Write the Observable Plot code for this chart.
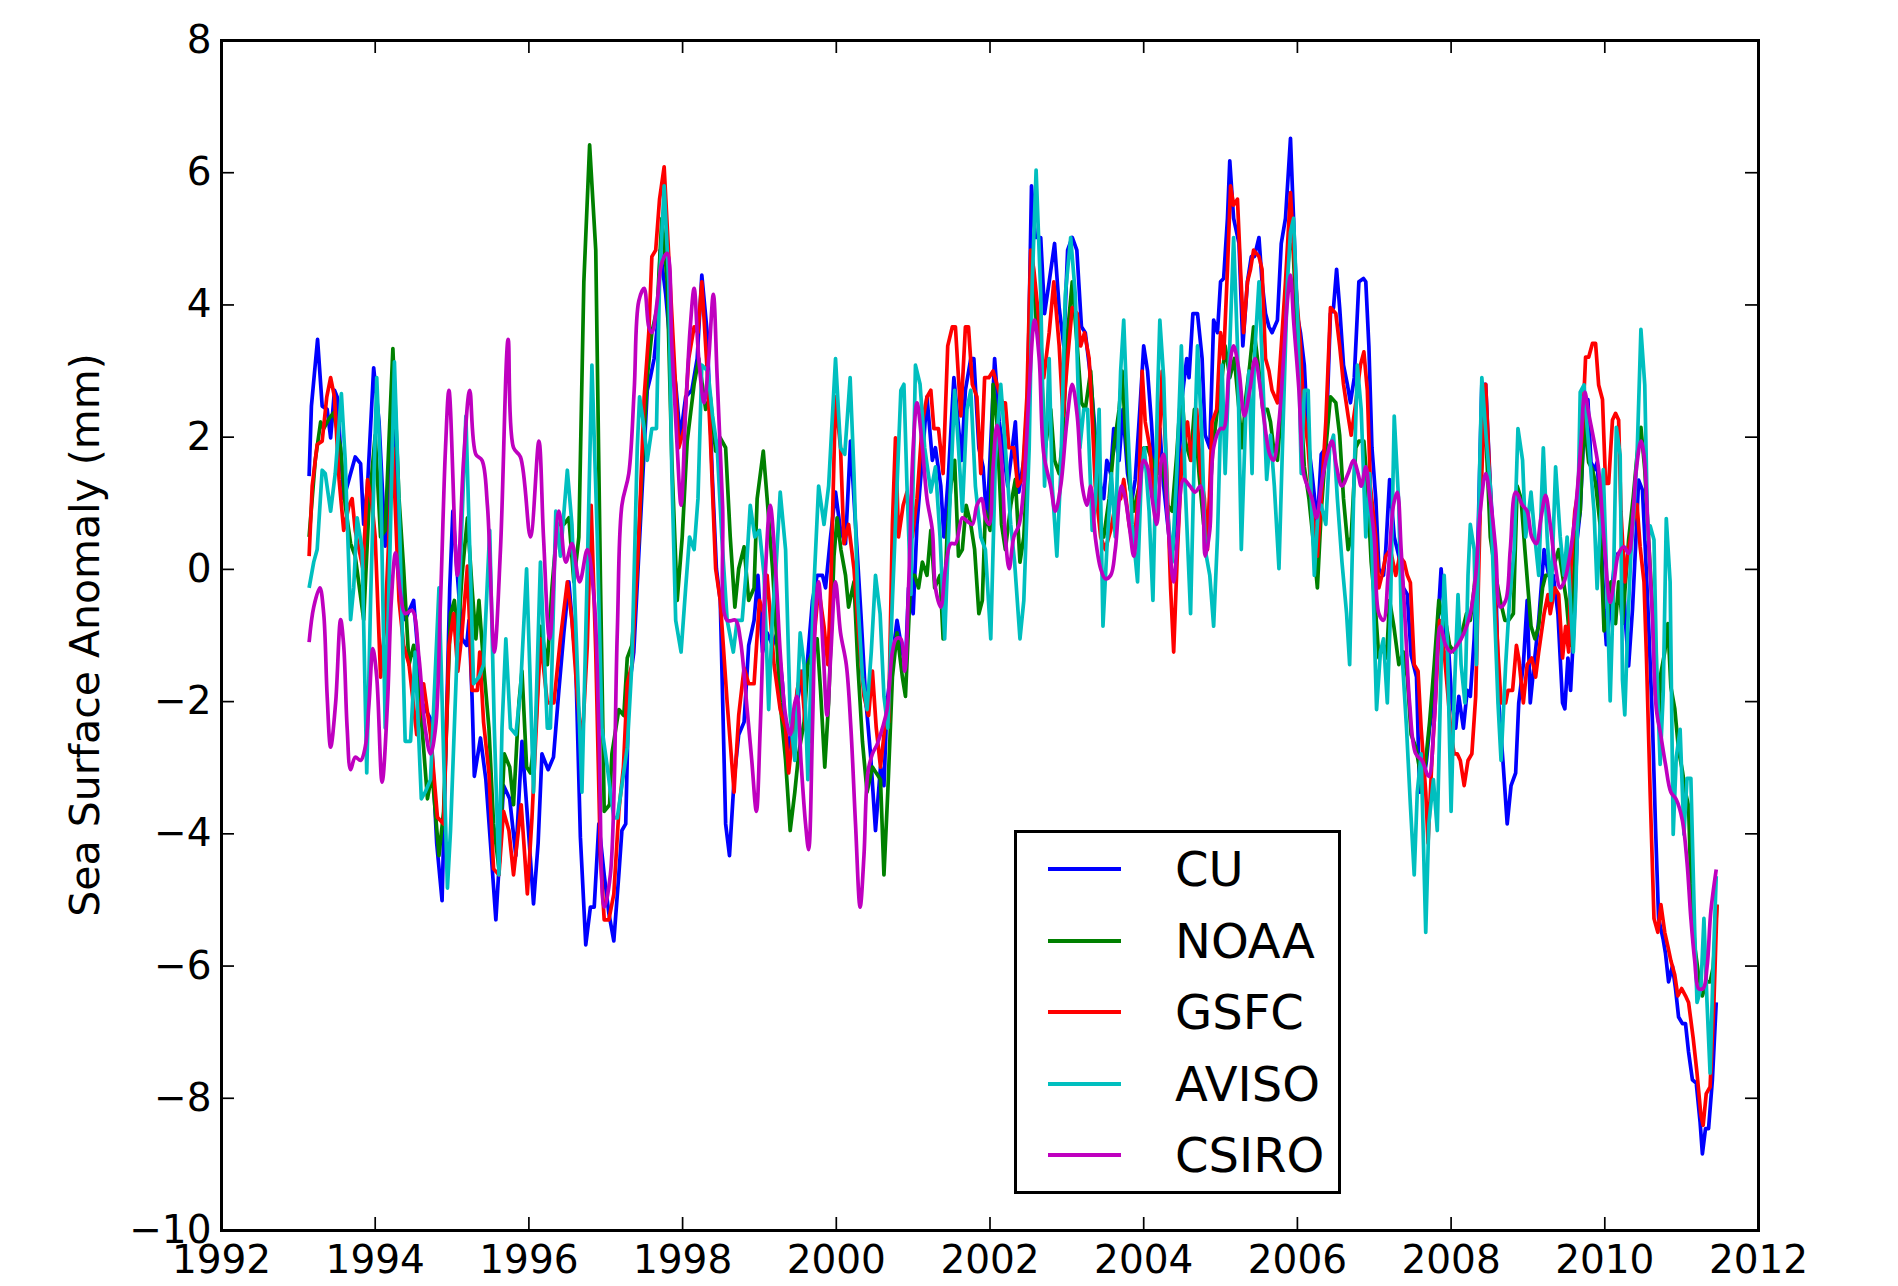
<!DOCTYPE html>
<html><head><meta charset="utf-8">
<script src="https://cdn.jsdelivr.net/npm/d3@7"></script>
<script src="https://cdn.jsdelivr.net/npm/@observablehq/plot@0.6"></script>
<style>
html,body{margin:0;padding:0;background:#fff;}
#chart{position:relative;width:1898px;height:1286px;font-family:"DejaVu Sans",sans-serif;}
#legend{position:absolute;left:1014px;top:830px;width:327px;height:364px;box-sizing:border-box;border:3px solid #000;background:#fff;}
.item{position:absolute;left:0;width:100%;height:0;}
.item .sw{position:absolute;left:31px;width:73px;height:3.6px;top:-1.8px;}
.item .lb{position:absolute;left:158px;top:0;transform:translateY(-50%);font-size:48px;line-height:1;color:#000;white-space:nowrap;}
</style></head><body><div id="chart"></div>
<script>
const xTicks = [1992,1994,1996,1998,2000,2002,2004,2006,2008,2010,2012];
const yTicks = [-10,-8,-6,-4,-2,0,2,4,6,8];
const yLabel = "Sea Surface Anomaly (mm)";
const names = ["CU","NOAA","GSFC","AVISO","CSIRO"];
const colors = ["#0000ff","#008000","#ff0000","#00bfbf","#bf00bf"];

const CU = [[1993.14,1.41],[1993.17,2.47],[1993.25,3.48],[1993.31,2.47],[1993.375,2.42],[1993.42,1.99],[1993.47,2.71],[1993.505,2.61],[1993.59,1.07],[1993.68,1.45],[1993.74,1.70],[1993.81,1.60],[1993.85,0.68],[1993.90,1.26],[1993.98,3.05],[1994.05,2.23],[1994.13,0.35],[1994.24,2.42],[1994.33,-0.09],[1994.39,-0.76],[1994.50,-0.47],[1994.61,-2.02],[1994.72,-2.26],[1994.80,-4.14],[1994.87,-5.01],[1994.97,-0.28],[1995.01,0.88],[1995.07,-0.09],[1995.13,-1.05],[1995.19,-1.15],[1995.22,-0.77],[1995.26,-1.92],[1995.29,-3.13],[1995.37,-2.55],[1995.44,-3.18],[1995.50,-4.14],[1995.57,-5.30],[1995.62,-4.33],[1995.67,-3.27],[1995.75,-3.47],[1995.83,-4.33],[1995.91,-2.60],[1996.00,-4.05],[1996.06,-5.06],[1996.12,-4.14],[1996.17,-2.79],[1996.25,-3.03],[1996.32,-2.84],[1996.39,-1.83],[1996.455,-0.96],[1996.52,-0.19],[1996.61,-1.44],[1996.67,-4.05],[1996.74,-5.68],[1996.80,-5.11],[1996.85,-5.11],[1996.91,-3.85],[1996.98,-4.62],[1997.04,-5.20],[1997.105,-5.62],[1997.17,-4.62],[1997.21,-3.95],[1997.26,-3.85],[1997.30,-1.83],[1997.365,-1.25],[1997.45,0.68],[1997.54,2.71],[1997.58,2.90],[1997.63,3.19],[1997.67,3.67],[1997.71,4.83],[1997.78,4.16],[1997.84,3.38],[1997.91,2.80],[1997.97,1.99],[1998.04,2.61],[1998.12,2.71],[1998.19,3.19],[1998.25,4.45],[1998.32,3.58],[1998.385,1.45],[1998.44,0.01],[1998.49,-0.47],[1998.56,-3.85],[1998.61,-4.33],[1998.67,-3.18],[1998.73,-2.50],[1998.80,-2.31],[1998.86,-1.15],[1998.93,-0.77],[1998.98,-0.09],[1999.04,-1.25],[1999.10,-0.96],[1999.17,-1.15],[1999.23,-0.96],[1999.30,-1.73],[1999.36,-2.79],[1999.43,-2.31],[1999.49,-2.02],[1999.56,-1.54],[1999.60,-1.73],[1999.69,-0.47],[1999.75,-0.09],[1999.82,-0.09],[1999.86,-0.28],[1999.925,0.49],[1999.99,1.17],[2000.055,0.59],[2000.12,0.39],[2000.185,1.94],[2000.25,0.68],[2000.32,-0.67],[2000.38,-1.92],[2000.445,-2.79],[2000.51,-3.95],[2000.575,-2.99],[2000.62,-3.27],[2000.66,-2.02],[2000.73,-1.34],[2000.79,-0.77],[2000.86,-1.25],[2000.90,-1.44],[2000.94,-0.28],[2001.00,-0.67],[2001.05,0.68],[2001.13,1.84],[2001.18,2.61],[2001.25,1.65],[2001.29,1.84],[2001.36,1.26],[2001.40,0.49],[2001.46,1.45],[2001.53,2.90],[2001.57,2.42],[2001.63,1.65],[2001.68,2.71],[2001.75,3.19],[2001.79,3.19],[2001.855,1.84],[2001.91,1.55],[2001.96,0.68],[2002.03,2.42],[2002.06,3.19],[2002.12,2.23],[2002.17,1.84],[2002.23,1.26],[2002.28,1.74],[2002.33,2.23],[2002.375,1.17],[2002.44,1.65],[2002.49,2.61],[2002.54,5.80],[2002.59,5.02],[2002.66,5.02],[2002.71,3.87],[2002.77,4.35],[2002.84,4.93],[2002.90,3.96],[2002.96,3.38],[2003.01,4.83],[2003.07,5.02],[2003.13,4.83],[2003.19,3.67],[2003.24,3.58],[2003.31,2.90],[2003.37,2.03],[2003.44,1.26],[2003.48,1.07],[2003.52,1.65],[2003.57,1.45],[2003.61,2.13],[2003.68,1.65],[2003.73,2.42],[2003.79,1.45],[2003.85,1.07],[2003.89,1.36],[2003.95,2.42],[2004.00,3.38],[2004.05,3.00],[2004.10,2.23],[2004.15,1.26],[2004.21,2.13],[2004.26,1.26],[2004.33,0.49],[2004.38,0.30],[2004.44,1.07],[2004.50,2.61],[2004.56,3.19],[2004.59,2.90],[2004.64,3.87],[2004.70,3.87],[2004.76,3.19],[2004.80,2.03],[2004.86,1.84],[2004.91,3.77],[2004.96,3.58],[2005.00,4.35],[2005.04,4.40],[2005.09,5.31],[2005.12,6.18],[2005.17,5.31],[2005.24,4.93],[2005.29,3.38],[2005.35,4.35],[2005.40,4.73],[2005.44,4.73],[2005.50,5.02],[2005.54,4.35],[2005.585,3.87],[2005.63,3.67],[2005.67,3.58],[2005.74,3.77],[2005.79,4.93],[2005.845,5.31],[2005.91,6.52],[2005.95,5.31],[2005.995,3.87],[2006.04,3.58],[2006.09,3.09],[2006.14,1.94],[2006.19,1.45],[2006.26,0.68],[2006.31,1.74],[2006.37,1.84],[2006.43,3.87],[2006.47,3.96],[2006.51,4.54],[2006.55,3.96],[2006.60,3.09],[2006.65,2.80],[2006.69,2.52],[2006.74,2.90],[2006.80,4.35],[2006.86,4.40],[2006.89,4.35],[2006.93,3.38],[2006.97,1.84],[2007.02,1.07],[2007.06,0.01],[2007.12,-0.09],[2007.15,0.30],[2007.20,1.36],[2007.26,0.49],[2007.32,0.20],[2007.38,-0.28],[2007.43,-0.38],[2007.48,-1.30],[2007.55,-1.63],[2007.59,-3.37],[2007.645,-3.18],[2007.68,-2.89],[2007.72,-2.40],[2007.78,-1.92],[2007.82,-0.96],[2007.87,0.01],[2007.93,-0.96],[2007.97,-1.25],[2008.01,-2.02],[2008.06,-2.40],[2008.10,-1.92],[2008.16,-2.40],[2008.21,-1.83],[2008.25,-1.92],[2008.30,-1.05],[2008.35,0.49],[2008.40,2.80],[2008.45,2.80],[2008.51,1.26],[2008.58,-0.09],[2008.62,-2.02],[2008.68,-2.99],[2008.73,-3.85],[2008.78,-3.27],[2008.84,-3.08],[2008.88,-2.02],[2008.94,-1.44],[2008.99,-0.47],[2009.03,-2.02],[2009.08,-1.44],[2009.14,-0.77],[2009.21,0.30],[2009.27,-0.09],[2009.33,-0.09],[2009.39,-0.67],[2009.45,-2.02],[2009.48,-2.11],[2009.52,-1.34],[2009.555,-1.83],[2009.60,-0.82],[2009.64,0.45],[2009.68,0.88],[2009.73,2.15],[2009.78,2.57],[2009.82,1.62],[2009.87,1.51],[2009.90,1.62],[2009.94,0.88],[2009.99,-0.61],[2010.02,-1.14],[2010.07,-0.61],[2010.12,0.03],[2010.17,0.24],[2010.23,0.24],[2010.27,-0.82],[2010.31,-1.46],[2010.36,-0.61],[2010.40,0.34],[2010.44,1.35],[2010.49,1.20],[2010.53,0.24],[2010.57,-0.82],[2010.62,-2.31],[2010.66,-3.90],[2010.70,-5.28],[2010.76,-5.60],[2010.79,-5.81],[2010.83,-6.24],[2010.88,-6.00],[2010.92,-6.34],[2010.96,-6.77],[2011.01,-6.87],[2011.05,-6.87],[2011.09,-7.30],[2011.14,-7.72],[2011.19,-7.77],[2011.24,-8.36],[2011.27,-8.84],[2011.31,-8.46],[2011.35,-8.46],[2011.40,-7.72],[2011.45,-6.55]];

const NOAA = [[1993.14,0.49],[1993.22,1.65],[1993.29,2.23],[1993.33,2.13],[1993.40,2.28],[1993.46,2.37],[1993.55,1.84],[1993.61,0.97],[1993.68,0.39],[1993.74,0.20],[1993.85,-0.76],[1993.92,0.97],[1994.00,2.03],[1994.07,0.49],[1994.13,0.59],[1994.23,3.34],[1994.31,1.07],[1994.37,0.01],[1994.44,-1.44],[1994.50,-1.15],[1994.61,-2.40],[1994.68,-3.47],[1994.74,-3.08],[1994.83,-4.33],[1994.89,-3.66],[1994.98,-0.67],[1995.03,-0.47],[1995.075,-1.05],[1995.13,-0.09],[1995.20,0.78],[1995.26,-0.28],[1995.31,-1.05],[1995.35,-0.47],[1995.41,-1.44],[1995.48,-2.40],[1995.54,-3.85],[1995.61,-4.53],[1995.68,-2.79],[1995.75,-2.99],[1995.80,-3.56],[1995.87,-2.02],[1995.91,-1.54],[1995.97,-2.99],[1996.02,-3.08],[1996.09,-2.40],[1996.15,-0.86],[1996.24,-1.44],[1996.30,-0.28],[1996.37,0.68],[1996.455,0.68],[1996.52,0.78],[1996.585,-0.19],[1996.65,0.49],[1996.715,4.35],[1996.79,6.42],[1996.87,4.83],[1996.93,-0.09],[1996.98,-3.66],[1997.05,-3.56],[1997.08,-2.79],[1997.17,-2.12],[1997.235,-2.21],[1997.28,-1.34],[1997.34,-1.15],[1997.41,0.01],[1997.47,1.45],[1997.54,2.90],[1997.60,3.58],[1997.67,3.96],[1997.73,5.31],[1997.80,4.35],[1997.86,1.65],[1997.93,-0.47],[1997.995,0.49],[1998.06,1.94],[1998.15,2.80],[1998.21,3.19],[1998.30,2.42],[1998.36,2.61],[1998.43,1.79],[1998.49,1.99],[1998.56,1.84],[1998.62,0.49],[1998.68,-0.57],[1998.73,0.01],[1998.80,0.34],[1998.86,-0.47],[1998.93,-0.28],[1998.97,1.07],[1999.05,1.79],[1999.10,1.07],[1999.17,0.01],[1999.21,-0.77],[1999.27,-2.02],[1999.34,-2.89],[1999.40,-3.95],[1999.46,-3.37],[1999.51,-2.79],[1999.58,-2.31],[1999.63,-1.44],[1999.69,-1.25],[1999.75,-1.05],[1999.795,-1.83],[1999.85,-2.99],[1999.90,-2.02],[1999.97,0.20],[2000.01,0.78],[2000.06,0.30],[2000.12,-0.09],[2000.16,-0.57],[2000.23,-0.19],[2000.28,-1.44],[2000.34,-2.60],[2000.40,-3.37],[2000.47,-2.99],[2000.52,-3.08],[2000.575,-3.18],[2000.62,-4.62],[2000.67,-3.37],[2000.73,-1.63],[2000.79,-0.96],[2000.86,-1.63],[2000.90,-1.92],[2000.97,-0.09],[2001.02,-0.09],[2001.07,-0.28],[2001.12,0.11],[2001.18,-0.09],[2001.23,0.59],[2001.28,-0.28],[2001.35,-0.09],[2001.39,-1.05],[2001.44,0.49],[2001.49,1.26],[2001.54,1.65],[2001.59,0.20],[2001.64,0.30],[2001.69,0.97],[2001.75,0.68],[2001.80,0.30],[2001.855,-0.67],[2001.90,-0.47],[2001.94,0.88],[2002.00,0.59],[2002.04,2.80],[2002.09,2.23],[2002.15,0.68],[2002.20,0.30],[2002.27,0.97],[2002.33,1.36],[2002.39,0.11],[2002.44,0.49],[2002.49,1.74],[2002.55,4.73],[2002.60,3.77],[2002.66,3.19],[2002.72,1.84],[2002.79,2.42],[2002.84,1.65],[2002.90,1.45],[2002.95,2.03],[2003.01,3.58],[2003.07,4.35],[2003.135,3.38],[2003.19,2.52],[2003.24,2.42],[2003.31,3.00],[2003.37,1.80],[2003.43,0.68],[2003.48,0.49],[2003.55,1.07],[2003.61,1.84],[2003.68,2.42],[2003.72,3.00],[2003.76,2.13],[2003.82,1.26],[2003.87,0.88],[2003.94,1.26],[2004.00,1.84],[2004.05,1.84],[2004.11,1.65],[2004.18,1.45],[2004.24,1.65],[2004.31,0.97],[2004.37,0.88],[2004.43,1.74],[2004.49,2.80],[2004.54,1.94],[2004.61,1.65],[2004.66,2.42],[2004.72,1.45],[2004.78,0.68],[2004.85,0.88],[2004.90,1.84],[2004.96,2.42],[2005.02,2.90],[2005.06,3.38],[2005.12,2.90],[2005.18,3.19],[2005.24,2.42],[2005.28,1.84],[2005.33,2.61],[2005.38,3.09],[2005.43,3.67],[2005.50,3.00],[2005.55,2.42],[2005.61,2.42],[2005.65,2.23],[2005.69,1.84],[2005.74,1.65],[2005.79,2.42],[2005.845,4.16],[2005.90,4.93],[2005.945,4.83],[2006.00,3.38],[2006.04,2.61],[2006.09,1.55],[2006.15,1.07],[2006.21,0.39],[2006.26,-0.28],[2006.31,0.88],[2006.37,1.84],[2006.43,2.61],[2006.50,2.52],[2006.55,2.03],[2006.60,1.07],[2006.66,0.30],[2006.70,0.49],[2006.76,1.84],[2006.80,1.94],[2006.865,1.94],[2006.91,1.26],[2006.96,0.11],[2007.02,-0.67],[2007.06,-1.34],[2007.12,-1.15],[2007.16,-1.34],[2007.20,-0.47],[2007.255,-0.86],[2007.32,-1.44],[2007.38,-1.25],[2007.43,-1.63],[2007.48,-2.50],[2007.54,-2.69],[2007.58,-2.95],[2007.62,-3.37],[2007.67,-2.89],[2007.72,-2.31],[2007.78,-1.44],[2007.84,-0.47],[2007.88,-0.67],[2007.94,-0.86],[2007.98,-1.15],[2008.04,-1.25],[2008.09,-1.05],[2008.14,-0.96],[2008.20,-0.67],[2008.25,-0.77],[2008.30,-0.28],[2008.36,0.49],[2008.42,2.23],[2008.46,1.84],[2008.51,0.49],[2008.58,-0.09],[2008.64,-0.47],[2008.70,-0.77],[2008.75,-0.77],[2008.81,-0.67],[2008.86,1.26],[2008.91,1.07],[2008.96,0.30],[2009.00,-0.28],[2009.04,-0.86],[2009.09,-1.05],[2009.14,-0.86],[2009.19,-0.28],[2009.23,-0.09],[2009.29,-0.09],[2009.35,0.11],[2009.40,0.30],[2009.45,-0.09],[2009.50,-0.47],[2009.55,-1.15],[2009.58,-0.50],[2009.62,0.45],[2009.68,0.88],[2009.73,2.26],[2009.79,1.62],[2009.84,1.51],[2009.88,1.30],[2009.94,0.66],[2009.99,-0.93],[2010.03,-0.82],[2010.08,-0.19],[2010.14,-0.82],[2010.18,-0.19],[2010.23,-0.82],[2010.27,-0.19],[2010.31,0.45],[2010.37,1.09],[2010.42,1.73],[2010.47,2.15],[2010.52,1.51],[2010.57,0.45],[2010.62,-0.61],[2010.66,-1.88],[2010.70,-2.31],[2010.73,-1.57],[2010.78,-1.25],[2010.82,-0.82],[2010.86,-1.78],[2010.91,-2.10],[2010.96,-2.73],[2011.01,-3.05],[2011.05,-3.37],[2011.09,-3.58],[2011.12,-4.75],[2011.17,-5.70],[2011.22,-6.13],[2011.27,-6.45],[2011.32,-6.24],[2011.37,-6.24],[2011.41,-6.02],[2011.46,-5.07]];

const GSFC = [[1993.14,0.20],[1993.18,1.26],[1993.245,1.89],[1993.31,1.94],[1993.37,2.61],[1993.42,2.90],[1993.47,2.61],[1993.53,1.36],[1993.59,0.59],[1993.66,0.97],[1993.70,1.07],[1993.74,0.59],[1993.84,0.01],[1993.90,1.36],[1993.96,0.97],[1994.00,0.49],[1994.07,-1.63],[1994.13,-0.76],[1994.23,1.84],[1994.31,-0.47],[1994.37,-1.15],[1994.44,-1.44],[1994.54,-2.50],[1994.63,-1.73],[1994.72,-2.50],[1994.81,-3.75],[1994.89,-3.85],[1994.96,-1.15],[1995.02,-0.67],[1995.075,-1.54],[1995.13,-0.96],[1995.20,0.05],[1995.26,-1.83],[1995.33,-1.83],[1995.36,-1.25],[1995.41,-2.31],[1995.48,-3.08],[1995.54,-4.53],[1995.61,-4.62],[1995.67,-3.66],[1995.74,-3.95],[1995.80,-4.62],[1995.90,-3.56],[1995.98,-4.91],[1996.04,-3.76],[1996.15,-1.05],[1996.24,-2.02],[1996.325,-2.02],[1996.41,-1.05],[1996.50,-0.19],[1996.56,-0.77],[1996.63,-1.92],[1996.69,-2.69],[1996.76,-1.15],[1996.81,0.97],[1996.87,-1.25],[1996.93,-4.33],[1996.98,-5.30],[1997.04,-5.30],[1997.105,-4.91],[1997.17,-3.66],[1997.23,-2.99],[1997.28,-1.73],[1997.34,-1.44],[1997.43,0.49],[1997.50,2.61],[1997.56,3.58],[1997.60,4.73],[1997.65,4.83],[1997.70,5.60],[1997.76,6.09],[1997.82,4.73],[1997.89,3.19],[1997.95,1.84],[1998.02,2.13],[1998.08,3.19],[1998.15,3.67],[1998.20,3.58],[1998.25,4.35],[1998.32,3.00],[1998.36,2.03],[1998.43,0.01],[1998.49,-0.47],[1998.58,-2.02],[1998.67,-3.37],[1998.73,-2.21],[1998.80,-1.49],[1998.86,-1.73],[1998.93,-1.73],[1999.00,-0.47],[1999.06,-0.67],[1999.10,-0.09],[1999.19,-1.44],[1999.27,-2.12],[1999.34,-2.40],[1999.38,-3.08],[1999.45,-2.31],[1999.49,-1.83],[1999.54,-1.54],[1999.60,-2.40],[1999.66,-2.60],[1999.71,-1.05],[1999.77,-0.28],[1999.84,-0.86],[1999.89,-1.44],[1999.93,-0.19],[1999.99,2.61],[2000.055,1.84],[2000.10,0.39],[2000.16,0.68],[2000.23,0.01],[2000.29,-0.96],[2000.36,-1.92],[2000.42,-2.21],[2000.47,-1.54],[2000.52,-2.40],[2000.575,-2.99],[2000.63,-2.40],[2000.68,-2.31],[2000.73,0.68],[2000.77,1.99],[2000.81,0.49],[2000.87,0.97],[2000.92,1.17],[2000.99,0.49],[2001.05,1.07],[2001.12,2.23],[2001.18,2.61],[2001.23,2.71],[2001.27,2.13],[2001.33,2.13],[2001.39,1.45],[2001.45,3.38],[2001.51,3.67],[2001.55,3.67],[2001.62,2.32],[2001.68,3.67],[2001.72,3.67],[2001.77,2.80],[2001.83,2.61],[2001.88,1.45],[2001.93,2.90],[2001.985,2.90],[2002.04,3.00],[2002.09,2.80],[2002.16,2.52],[2002.20,2.52],[2002.245,1.84],[2002.31,1.84],[2002.36,1.26],[2002.42,1.36],[2002.48,2.61],[2002.53,4.83],[2002.57,4.54],[2002.62,3.96],[2002.70,2.90],[2002.77,3.58],[2002.83,4.35],[2002.90,3.38],[2002.95,2.32],[2003.01,3.19],[2003.07,3.96],[2003.135,3.87],[2003.18,3.38],[2003.23,3.58],[2003.29,3.19],[2003.34,2.03],[2003.37,1.26],[2003.44,0.49],[2003.50,0.30],[2003.57,0.59],[2003.63,0.97],[2003.70,1.07],[2003.74,1.36],[2003.81,0.68],[2003.87,0.30],[2003.94,1.26],[2003.98,3.00],[2004.02,2.23],[2004.08,1.84],[2004.13,1.07],[2004.20,1.84],[2004.24,3.00],[2004.30,1.45],[2004.35,-0.28],[2004.39,-1.25],[2004.44,0.30],[2004.50,1.74],[2004.57,2.23],[2004.62,1.65],[2004.69,2.42],[2004.74,1.45],[2004.79,1.07],[2004.83,0.30],[2004.89,2.23],[2004.95,2.42],[2005.00,3.58],[2005.04,3.19],[2005.09,4.54],[2005.13,5.80],[2005.17,5.51],[2005.22,5.60],[2005.26,4.54],[2005.30,3.58],[2005.35,4.35],[2005.39,4.54],[2005.43,4.83],[2005.50,4.73],[2005.54,4.54],[2005.585,3.19],[2005.63,3.00],[2005.67,2.71],[2005.74,2.52],[2005.79,3.38],[2005.845,4.35],[2005.91,5.70],[2005.95,4.83],[2005.995,4.06],[2006.04,3.38],[2006.08,2.42],[2006.14,1.84],[2006.19,0.97],[2006.26,0.20],[2006.31,1.07],[2006.37,2.23],[2006.43,3.96],[2006.50,3.87],[2006.55,3.38],[2006.60,2.80],[2006.66,2.32],[2006.70,2.03],[2006.76,2.52],[2006.82,3.09],[2006.865,3.29],[2006.91,2.71],[2006.95,1.26],[2007.02,0.49],[2007.06,-0.28],[2007.10,-0.09],[2007.15,0.20],[2007.21,0.30],[2007.28,-0.09],[2007.33,0.20],[2007.39,0.11],[2007.43,-0.09],[2007.47,-0.20],[2007.52,-1.44],[2007.57,-1.54],[2007.61,-2.40],[2007.67,-3.37],[2007.70,-4.14],[2007.75,-2.89],[2007.80,-1.92],[2007.85,-0.77],[2007.91,-1.25],[2007.96,-1.92],[2008.00,-2.50],[2008.04,-2.79],[2008.08,-2.79],[2008.12,-2.89],[2008.17,-3.27],[2008.22,-2.89],[2008.27,-2.79],[2008.32,-1.92],[2008.38,0.97],[2008.45,2.80],[2008.50,1.45],[2008.56,-0.09],[2008.61,-1.25],[2008.65,-2.02],[2008.71,-2.02],[2008.74,-1.83],[2008.80,-1.83],[2008.85,-1.15],[2008.88,-1.34],[2008.94,-2.02],[2008.99,-1.44],[2009.05,-1.34],[2009.10,-1.63],[2009.14,-1.25],[2009.21,-0.67],[2009.26,-0.38],[2009.29,-0.67],[2009.35,-0.28],[2009.40,-0.38],[2009.45,-1.34],[2009.49,-0.86],[2009.53,-1.25],[2009.56,0.03],[2009.61,0.88],[2009.64,1.09],[2009.71,2.15],[2009.75,3.21],[2009.79,3.21],[2009.84,3.42],[2009.88,3.42],[2009.92,2.79],[2009.97,2.57],[2010.01,1.30],[2010.05,1.30],[2010.10,2.26],[2010.14,2.36],[2010.18,2.26],[2010.21,0.88],[2010.26,-0.19],[2010.30,0.24],[2010.36,0.66],[2010.42,0.98],[2010.46,0.34],[2010.51,-0.19],[2010.54,-1.25],[2010.59,-3.37],[2010.64,-5.28],[2010.69,-5.49],[2010.73,-5.07],[2010.78,-5.49],[2010.82,-5.70],[2010.86,-5.92],[2010.91,-6.13],[2010.95,-6.45],[2011.00,-6.34],[2011.05,-6.45],[2011.09,-6.55],[2011.15,-7.09],[2011.20,-7.62],[2011.25,-8.25],[2011.28,-8.41],[2011.32,-7.93],[2011.37,-7.83],[2011.42,-6.55],[2011.46,-5.07]];

const AVISO = [[1993.14,-0.28],[1993.20,0.11],[1993.245,0.30],[1993.31,1.50],[1993.35,1.45],[1993.42,0.88],[1993.48,1.45],[1993.56,2.66],[1993.61,1.65],[1993.68,-0.76],[1993.72,-0.28],[1993.765,0.78],[1993.83,0.30],[1993.89,-3.08],[1993.94,-0.47],[1994.02,2.90],[1994.07,1.45],[1994.13,-2.40],[1994.19,0.20],[1994.25,3.14],[1994.31,0.97],[1994.39,-2.60],[1994.46,-2.60],[1994.52,-1.25],[1994.60,-3.47],[1994.65,-3.37],[1994.72,-3.18],[1994.83,-0.28],[1994.89,-2.79],[1994.94,-4.82],[1994.98,-3.95],[1995.18,2.32],[1995.24,-0.09],[1995.28,-1.73],[1995.35,-1.63],[1995.41,-1.44],[1995.49,0.59],[1995.55,-2.40],[1995.61,-4.62],[1995.65,-2.40],[1995.70,-1.05],[1995.76,-2.40],[1995.83,-2.50],[1995.89,-1.83],[1995.97,0.01],[1996.01,-1.44],[1996.06,-3.37],[1996.15,0.11],[1996.24,-2.40],[1996.28,-2.40],[1996.35,0.88],[1996.41,0.20],[1996.50,1.50],[1996.56,0.68],[1996.62,-1.15],[1996.69,-3.37],[1996.76,0.01],[1996.82,3.09],[1996.89,0.49],[1996.95,-2.40],[1997.02,-2.99],[1997.105,-3.76],[1997.15,-3.76],[1997.21,-3.27],[1997.28,-2.69],[1997.34,-1.44],[1997.41,1.84],[1997.44,2.61],[1997.50,2.13],[1997.54,1.65],[1997.60,2.13],[1997.66,2.13],[1997.70,4.35],[1997.76,5.80],[1997.82,4.35],[1997.86,1.45],[1997.91,-0.77],[1997.98,-1.25],[1998.04,-0.28],[1998.09,0.49],[1998.15,0.30],[1998.20,1.07],[1998.25,3.09],[1998.33,3.00],[1998.39,2.32],[1998.45,1.84],[1998.51,0.49],[1998.58,-0.77],[1998.66,-1.25],[1998.71,-0.77],[1998.775,-0.77],[1998.83,0.01],[1998.88,0.97],[1998.94,0.49],[1999.00,0.59],[1999.06,-0.09],[1999.12,-2.12],[1999.17,-0.67],[1999.21,-0.09],[1999.27,1.17],[1999.34,0.30],[1999.40,-2.21],[1999.46,-2.89],[1999.53,-0.96],[1999.58,-1.44],[1999.63,-3.18],[1999.70,-0.47],[1999.77,1.26],[1999.84,0.68],[1999.90,1.26],[1999.99,3.19],[2000.055,1.84],[2000.11,1.74],[2000.18,2.90],[2000.23,1.45],[2000.28,-0.47],[2000.34,-1.63],[2000.40,-2.12],[2000.455,-1.25],[2000.51,-0.09],[2000.57,-0.67],[2000.62,-1.92],[2000.67,-2.40],[2000.73,-0.47],[2000.78,0.97],[2000.84,2.71],[2000.88,2.80],[2000.92,1.26],[2000.97,-0.38],[2001.03,3.09],[2001.09,2.80],[2001.15,1.84],[2001.23,1.17],[2001.29,1.55],[2001.35,0.49],[2001.41,-1.05],[2001.46,0.49],[2001.54,2.71],[2001.59,1.84],[2001.64,0.88],[2001.70,2.42],[2001.75,2.71],[2001.81,1.26],[2001.88,0.49],[2001.94,0.30],[2002.01,-1.05],[2002.07,1.65],[2002.14,2.80],[2002.20,1.84],[2002.27,0.68],[2002.32,0.11],[2002.39,-1.05],[2002.44,-0.47],[2002.51,1.84],[2002.55,4.35],[2002.60,6.04],[2002.66,4.16],[2002.71,1.26],[2002.77,3.19],[2002.81,1.26],[2002.87,0.20],[2002.92,1.45],[2002.98,4.16],[2003.05,5.02],[2003.11,4.16],[2003.17,1.84],[2003.22,2.42],[2003.27,2.42],[2003.33,0.59],[2003.37,1.00],[2003.42,2.42],[2003.47,-0.86],[2003.52,0.30],[2003.58,1.45],[2003.63,0.49],[2003.70,3.00],[2003.74,3.77],[2003.79,2.23],[2003.85,0.68],[2003.92,-0.19],[2003.97,1.45],[2004.01,1.84],[2004.07,0.88],[2004.12,-0.47],[2004.18,2.61],[2004.21,3.77],[2004.26,2.90],[2004.31,0.88],[2004.37,0.11],[2004.43,1.45],[2004.49,3.38],[2004.54,1.26],[2004.61,-0.67],[2004.66,1.84],[2004.70,3.38],[2004.76,1.94],[2004.80,0.30],[2004.86,-0.09],[2004.91,-0.86],[2004.96,0.49],[2005.02,3.09],[2005.06,1.45],[2005.12,3.38],[2005.17,5.02],[2005.22,3.38],[2005.27,0.30],[2005.33,2.42],[2005.37,3.00],[2005.41,1.45],[2005.44,3.19],[2005.50,4.35],[2005.54,3.19],[2005.60,1.36],[2005.65,2.03],[2005.70,1.26],[2005.76,0.01],[2005.815,2.23],[2005.87,4.35],[2005.91,5.10],[2005.95,5.31],[2006.01,3.58],[2006.05,1.45],[2006.09,2.71],[2006.14,2.71],[2006.18,1.07],[2006.22,-0.09],[2006.27,0.88],[2006.31,0.97],[2006.37,0.68],[2006.42,1.84],[2006.47,2.03],[2006.52,1.07],[2006.58,0.11],[2006.64,-0.67],[2006.68,-1.44],[2006.735,1.26],[2006.78,3.09],[2006.83,2.42],[2006.89,0.49],[2006.94,1.45],[2006.99,-0.47],[2007.03,-2.12],[2007.08,-1.25],[2007.12,-1.05],[2007.17,-2.02],[2007.21,-0.67],[2007.26,2.32],[2007.32,0.97],[2007.36,-1.25],[2007.42,-2.40],[2007.47,-3.56],[2007.52,-4.62],[2007.56,-3.37],[2007.61,-2.79],[2007.67,-5.49],[2007.71,-3.85],[2007.77,-3.18],[2007.82,-3.95],[2007.87,-1.44],[2007.91,-0.09],[2007.95,-1.05],[2008.00,-3.66],[2008.04,-1.92],[2008.09,-0.38],[2008.13,-1.44],[2008.18,-2.02],[2008.22,-0.09],[2008.25,0.68],[2008.30,0.30],[2008.33,-1.44],[2008.37,1.45],[2008.40,2.90],[2008.46,1.94],[2008.51,1.26],[2008.56,-0.47],[2008.61,-2.02],[2008.65,-2.89],[2008.71,-1.44],[2008.76,-0.47],[2008.82,0.30],[2008.87,2.13],[2008.93,1.65],[2008.97,0.49],[2009.01,0.88],[2009.04,1.17],[2009.09,0.49],[2009.14,-0.09],[2009.20,1.84],[2009.25,0.49],[2009.30,-0.47],[2009.36,1.55],[2009.42,0.49],[2009.47,-0.09],[2009.51,0.49],[2009.56,-0.67],[2009.59,-1.25],[2009.62,-0.40],[2009.65,0.88],[2009.68,2.68],[2009.73,2.79],[2009.77,2.15],[2009.81,1.62],[2009.86,0.88],[2009.90,-0.29],[2009.94,0.66],[2009.98,1.51],[2010.02,0.03],[2010.07,-1.99],[2010.11,-0.40],[2010.15,2.15],[2010.20,1.73],[2010.23,-1.67],[2010.26,-2.20],[2010.30,-0.82],[2010.34,0.24],[2010.39,1.09],[2010.42,1.73],[2010.47,3.63],[2010.52,2.79],[2010.56,0.45],[2010.59,0.66],[2010.64,0.45],[2010.67,-1.25],[2010.72,-2.95],[2010.76,-1.88],[2010.80,0.77],[2010.85,-0.19],[2010.89,-4.01],[2010.93,-2.84],[2010.98,-2.42],[2011.03,-4.01],[2011.07,-3.16],[2011.12,-3.16],[2011.17,-5.49],[2011.20,-6.55],[2011.25,-6.34],[2011.29,-5.28],[2011.33,-6.55],[2011.37,-7.62],[2011.41,-6.02],[2011.45,-4.64]];

const CSIRO = [[1993.14,-1.10],[1993.20,-0.57],[1993.28,-0.28],[1993.33,-0.67],[1993.375,-1.92],[1993.42,-2.69],[1993.485,-2.02],[1993.55,-0.76],[1993.59,-1.15],[1993.635,-2.40],[1993.68,-3.03],[1993.74,-2.84],[1993.81,-2.89],[1993.87,-2.69],[1993.92,-2.02],[1993.97,-1.20],[1994.02,-1.63],[1994.09,-3.22],[1994.16,-2.02],[1994.21,-0.47],[1994.265,0.25],[1994.33,-0.38],[1994.39,-0.67],[1994.48,-0.62],[1994.57,-1.34],[1994.65,-2.40],[1994.72,-2.79],[1994.785,-2.40],[1994.85,-0.47],[1994.915,1.84],[1994.96,2.71],[1995.07,-0.09],[1995.15,1.65],[1995.23,2.71],[1995.31,1.74],[1995.39,1.65],[1995.46,0.97],[1995.55,-1.25],[1995.63,0.30],[1995.73,3.48],[1995.80,1.84],[1995.89,1.70],[1996.02,0.49],[1996.13,1.94],[1996.19,0.49],[1996.27,-1.05],[1996.39,0.88],[1996.48,0.11],[1996.56,0.39],[1996.66,-0.19],[1996.76,0.30],[1996.85,-0.47],[1996.91,-2.40],[1996.98,-5.11],[1997.06,-4.62],[1997.15,-0.96],[1997.21,0.97],[1997.30,1.45],[1997.37,2.71],[1997.43,4.06],[1997.50,4.25],[1997.56,3.67],[1997.60,3.58],[1997.67,4.06],[1997.73,4.64],[1997.80,4.78],[1997.86,3.38],[1997.93,1.84],[1997.98,0.97],[1998.04,2.42],[1998.10,3.67],[1998.15,4.25],[1998.21,3.19],[1998.28,2.52],[1998.34,3.19],[1998.40,4.16],[1998.45,2.90],[1998.52,0.97],[1998.58,-0.77],[1998.69,-0.77],[1998.75,-1.05],[1998.84,-2.12],[1998.90,-2.89],[1998.96,-3.66],[1999.01,-2.40],[1999.08,0.01],[1999.14,0.97],[1999.21,0.01],[1999.27,-1.25],[1999.34,-2.21],[1999.40,-2.50],[1999.46,-2.02],[1999.49,-1.92],[1999.54,-2.89],[1999.60,-3.85],[1999.64,-4.24],[1999.69,-2.40],[1999.73,-0.67],[1999.77,-0.19],[1999.83,-1.25],[1999.88,-2.21],[1999.93,-1.25],[1999.99,-0.19],[2000.055,-0.96],[2000.13,-1.44],[2000.19,-2.40],[2000.25,-3.85],[2000.31,-5.11],[2000.36,-4.33],[2000.41,-3.08],[2000.47,-2.79],[2000.53,-2.65],[2000.60,-2.40],[2000.66,-2.12],[2000.73,-1.25],[2000.78,-1.05],[2000.84,-1.05],[2000.89,-1.54],[2000.94,-0.28],[2001.00,1.84],[2001.05,2.52],[2001.12,1.84],[2001.18,1.07],[2001.25,0.59],[2001.29,-0.28],[2001.36,-0.57],[2001.42,0.01],[2001.49,0.39],[2001.55,0.39],[2001.64,0.78],[2001.70,0.73],[2001.77,0.68],[2001.83,0.97],[2001.89,1.07],[2001.94,0.78],[2001.99,0.68],[2002.04,1.55],[2002.09,2.18],[2002.15,1.65],[2002.20,0.49],[2002.25,0.01],[2002.31,0.49],[2002.38,0.68],[2002.44,1.26],[2002.51,2.71],[2002.58,3.77],[2002.64,3.19],[2002.70,1.74],[2002.79,1.26],[2002.85,0.88],[2002.92,1.26],[2003.00,2.23],[2003.07,2.80],[2003.135,2.32],[2003.20,1.26],[2003.26,0.97],[2003.31,1.26],[2003.37,0.49],[2003.44,0.01],[2003.50,-0.14],[2003.57,-0.09],[2003.63,0.30],[2003.71,1.26],[2003.76,1.07],[2003.82,0.59],[2003.87,0.20],[2003.94,1.07],[2004.00,1.65],[2004.05,1.55],[2004.11,1.07],[2004.17,0.68],[2004.23,1.65],[2004.26,1.74],[2004.31,0.78],[2004.39,-0.19],[2004.44,0.49],[2004.52,1.36],[2004.60,1.26],[2004.67,1.17],[2004.74,1.26],[2004.80,0.20],[2004.86,0.59],[2004.91,1.84],[2005.00,2.13],[2005.04,2.13],[2005.11,3.00],[2005.17,3.38],[2005.24,3.00],[2005.31,2.32],[2005.38,2.71],[2005.45,3.19],[2005.51,2.80],[2005.57,2.23],[2005.64,1.74],[2005.69,1.65],[2005.76,2.23],[2005.82,3.19],[2005.87,4.06],[2005.91,4.45],[2005.95,3.77],[2006.02,2.71],[2006.08,1.45],[2006.13,1.26],[2006.19,1.07],[2006.25,0.78],[2006.31,1.26],[2006.39,1.74],[2006.45,1.94],[2006.51,1.55],[2006.58,1.26],[2006.66,1.45],[2006.73,1.65],[2006.79,1.45],[2006.83,1.26],[2006.89,1.55],[2006.94,1.07],[2007.00,0.49],[2007.06,-0.67],[2007.12,-0.77],[2007.18,-0.09],[2007.25,0.97],[2007.30,1.17],[2007.35,0.30],[2007.41,-0.96],[2007.46,-2.02],[2007.54,-2.79],[2007.62,-2.89],[2007.71,-3.13],[2007.78,-2.31],[2007.86,-0.86],[2007.93,-1.15],[2008.00,-1.25],[2008.08,-1.15],[2008.17,-0.96],[2008.25,-0.67],[2008.32,-0.09],[2008.38,0.88],[2008.45,1.45],[2008.51,1.07],[2008.58,0.30],[2008.64,-0.57],[2008.71,-0.47],[2008.77,0.30],[2008.84,1.17],[2008.93,0.97],[2008.99,0.88],[2009.05,0.49],[2009.11,0.39],[2009.17,0.78],[2009.23,1.12],[2009.29,0.68],[2009.35,0.11],[2009.42,-0.28],[2009.47,-0.19],[2009.53,0.11],[2009.60,0.68],[2009.65,1.30],[2009.69,1.94],[2009.74,2.68],[2009.79,2.36],[2009.86,1.94],[2009.92,1.51],[2009.99,0.45],[2010.07,-0.50],[2010.12,-0.19],[2010.18,0.24],[2010.25,0.34],[2010.31,0.24],[2010.37,0.88],[2010.41,1.51],[2010.47,1.94],[2010.51,1.73],[2010.56,0.66],[2010.62,-0.72],[2010.67,-2.10],[2010.73,-2.52],[2010.79,-2.95],[2010.86,-3.37],[2010.93,-3.48],[2011.01,-3.80],[2011.07,-4.43],[2011.12,-5.28],[2011.17,-5.92],[2011.22,-6.34],[2011.28,-6.34],[2011.33,-6.02],[2011.38,-5.17],[2011.45,-4.54]];

const seriesData = [CU, NOAA, GSFC, AVISO, CSIRO];
const curves = ["linear","linear","linear","linear","catmull-rom"];

const W = 1898, H = 1286, mL = 221, mR = 140, mT = 40, mB = 56;
const frameW = W - mL - mR, frameH = H - mT - mB, tickLen = 13;
const fmtY = d => d < 0 ? "\u2212" + Math.abs(d) : String(d);

const lineMarks = seriesData.map((data, i) => Plot.line(data, {
  x: d => d[0], y: d => d[1], stroke: colors[i], strokeWidth: 3.7,
  curve: curves[i], strokeLinejoin: "round", strokeLinecap: "butt"
}));

const svg = Plot.plot({
  width: W, height: H,
  marginLeft: mL, marginRight: mR, marginTop: mT, marginBottom: mB,
  x: {domain: [1992, 2012]},
  y: {domain: [-10, 8]},
  style: {fontFamily: "DejaVu Sans", fontSize: "39px", background: "white", color: "black", overflow: "visible"},
  marks: [
    Plot.axisX(xTicks, {tickSize: 0, tickPadding: 15, tickFormat: d => String(d), label: null, fontSize: 39}),
    Plot.axisY(yTicks, {tickSize: 0, tickPadding: 10, tickFormat: fmtY, label: null, fontSize: 39}),
    ...lineMarks,
    Plot.tickX(xTicks, {x: d => d, insetTop: frameH - tickLen, stroke: "black", strokeWidth: 1.7}),
    Plot.tickX(xTicks, {x: d => d, insetBottom: frameH - tickLen, stroke: "black", strokeWidth: 1.7}),
    Plot.tickY(yTicks, {y: d => d, insetRight: frameW - tickLen, stroke: "black", strokeWidth: 1.7}),
    Plot.tickY(yTicks, {y: d => d, insetLeft: frameW - tickLen, stroke: "black", strokeWidth: 1.7}),
    Plot.frame({stroke: "black", strokeWidth: 3})
  ]
});

d3.select(svg).append("text")
  .attr("transform", "translate(99,635) rotate(-90)")
  .attr("text-anchor", "middle")
  .attr("font-size", 41)
  .attr("fill", "black")
  .text(yLabel);

const chart = document.getElementById("chart");
chart.appendChild(svg);

const legend = document.createElement("div");
legend.id = "legend";
const rowY = [36, 108, 179, 251, 322];
names.forEach((n, i) => {
  const item = document.createElement("div");
  item.className = "item";
  item.style.top = rowY[i] + "px";
  const sw = document.createElement("div");
  sw.className = "sw";
  sw.style.background = colors[i];
  const lb = document.createElement("div");
  lb.className = "lb";
  lb.textContent = n;
  item.appendChild(sw); item.appendChild(lb);
  legend.appendChild(item);
});
chart.appendChild(legend);
</script></body></html>
